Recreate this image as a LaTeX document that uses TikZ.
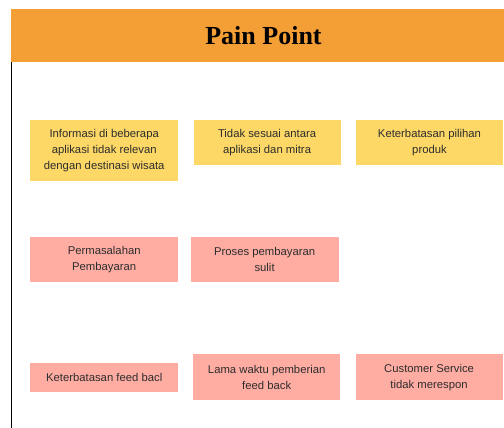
\documentclass[tikz,border=0pt]{standalone}
\usepackage{fontspec}
\setmainfont{Liberation Serif}
\setsansfont{Liberation Sans}
\usetikzlibrary{positioning}

\definecolor{headerorange}{RGB}{244,158,54}
\definecolor{noteyellow}{RGB}{253,216,102}
\definecolor{notepink}{RGB}{255,173,163}
\definecolor{notetext}{RGB}{45,45,45}

\begin{document}
\begin{tikzpicture}[x=1pt, y=-1pt,
    note/.style={rectangle, anchor=north west, inner sep=0pt, align=center, text=notetext,
        font=\sffamily\fontsize{11.3}{16}\selectfont},
    yellownote/.style={note, fill=noteyellow},
    pinknote/.style={note, fill=notepink}]
    \useasboundingbox (0,0) rectangle (504,428);

    % Header: Pain Point
    \node[draw=none, fill=headerorange, anchor=north west, minimum width=493pt, minimum height=53pt, inner sep=0pt] (header) at (11,9) {};
    \node[font=\bfseries\fontsize{26}{30}\selectfont] (title) at (263.5,36) {Pain Point};

    % Left border line
    \coordinate (bottomleft) at (11.5,428);
    \draw[line width=1pt] (header.south west) ++(0.5,0) -- (bottomleft);

    % First row
    \node[yellownote, minimum width=148pt, minimum height=61pt] (info) at (30,120) {Informasi di beberapa\\aplikasi tidak relevan\\dengan destinasi wisata};
    \node[yellownote, minimum width=147pt, minimum height=45pt, right=15pt of info.north east, anchor=north west] (mitra) {Tidak sesuai antara\\aplikasi dan mitra};
    \node[yellownote, minimum width=147pt, minimum height=45pt, right=15pt of mitra.north east, anchor=north west] (produk) {Keterbatasan pilihan\\produk};

    % Second row
    \node[pinknote, minimum width=148pt, minimum height=45pt] (bayar) at (30,237) {Permasalahan\\Pembayaran};
    \node[pinknote, minimum width=148pt, minimum height=45pt, right=12pt of bayar.north east, anchor=north west] (proses) {Proses pembayaran\\sulit};

    % Third row
    \node[pinknote, minimum width=148pt, minimum height=29pt] (feedback) at (30,363) {Keterbatasan feed bacl};
    \node[pinknote, minimum width=147pt, minimum height=46pt] (lama) at (193,354) {Lama waktu pemberian\\feed back};
    \node[pinknote, minimum width=147pt, minimum height=46pt, right=15pt of lama.north east, anchor=north west] (cs) {Customer Service\\tidak merespon};
\end{tikzpicture}
\end{document}
